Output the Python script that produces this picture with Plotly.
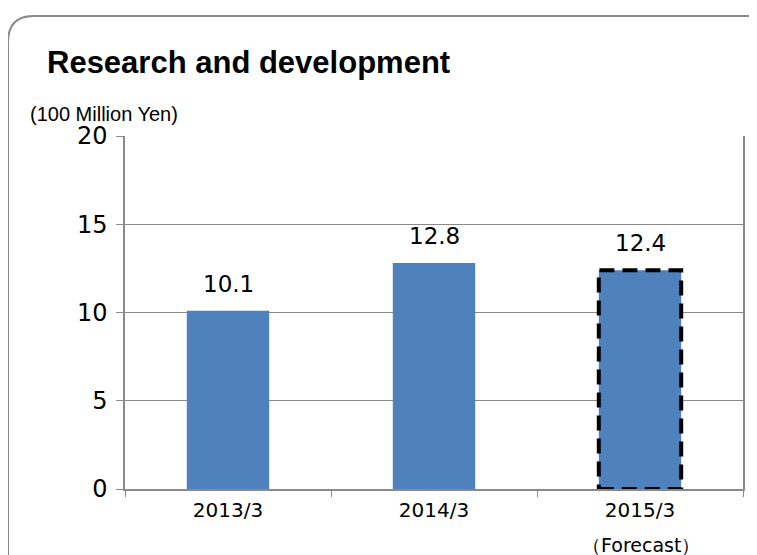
import plotly.graph_objects as go

categories = ["2013/3", "2014/3", "2015/3"]
values = [10.1, 12.8, 12.4]
labels = ["10.1", "12.8", "12.4"]
forecast_index = 2
y_ticks = [0, 5, 10, 15, 20]

# page body adds an 8px offset; reference coordinates are converted below
OFF = 8
W, H = 757 - OFF, 555 - OFF
L, R, T, B = 125 - OFF, 757 - 743, 136 - OFF, 555 - 489
PW, PH = W - L - R, H - T - B


def px(X):
    return (X - OFF - L) / PW


def py(Y):
    return (H - B - (Y - OFF)) / PH


fig = go.Figure()
fig.add_trace(go.Bar(
    x=categories, y=values, width=0.4,
    marker=dict(color="#4F81BD", line=dict(width=0)),
    hoverinfo="skip",
))

shapes = []
# dashed outline for forecast bar
shapes.append(dict(type="rect", xref="x", yref="y",
                   x0=forecast_index - 0.2, x1=forecast_index + 0.2,
                   y0=0, y1=values[forecast_index],
                   line=dict(color="#000000", width=4, dash="15px,8px"),
                   layer="above"))

# rounded outer border
x0, y0, x1, y1, r = 8, 16, 776, 580, 26
p = [
    f"M {px(x0)} {py(y0 + r)}",
    f"Q {px(x0)} {py(y0)} {px(x0 + r)} {py(y0)}",
    f"L {px(x1 - r)} {py(y0)}",
    f"Q {px(x1)} {py(y0)} {px(x1)} {py(y0 + r)}",
    f"L {px(x1)} {py(y1 - r)}",
    f"Q {px(x1)} {py(y1)} {px(x1 - r)} {py(y1)}",
    f"L {px(x0 + r)} {py(y1)}",
    f"Q {px(x0)} {py(y1)} {px(x0)} {py(y1 - r)}",
    "Z",
]
shapes.append(dict(type="path", xref="paper", yref="paper", path=" ".join(p),
                   line=dict(color="#8A8A8A", width=2), layer="below"))

annotations = [
    dict(text="<b>Research and development</b>", xref="paper", yref="paper",
         x=px(45), y=py(62), xanchor="left", yanchor="middle", showarrow=False,
         font=dict(family="Liberation Sans", size=31, color="#000000")),
    dict(text="(100 Million Yen)", xref="paper", yref="paper",
         x=px(28), y=py(114), xanchor="left", yanchor="middle", showarrow=False,
         font=dict(family="Liberation Sans", size=20, color="#000000")),
    dict(text="（Forecast）", xref="paper", yref="paper",
         x=px(641), y=py(545), xanchor="center", yanchor="middle", showarrow=False,
         font=dict(family="DejaVu Sans", size=19, color="#000000")),
]
for c, v, t in zip(categories, values, labels):
    annotations.append(dict(text=t, x=c, y=v, xref="x", yref="y",
                            xanchor="center", yanchor="bottom", yshift=12,
                            showarrow=False,
                            font=dict(family="DejaVu Sans", size=23, color="#000000")))

fig.update_layout(
    width=W, height=H,
    margin=dict(l=L, r=R, t=T, b=B, autoexpand=False),
    paper_bgcolor="#FFFFFF", plot_bgcolor="#FFFFFF",
    showlegend=False,
    shapes=shapes, annotations=annotations,
    xaxis=dict(type="category", showgrid=False, showline=True, linecolor="#8A8A8A", linewidth=2,
               ticks="outside", tickson="boundaries", ticklen=6, tickcolor="#8A8A8A",
               ticklabelstandoff=2,
               tickfont=dict(family="DejaVu Sans", size=20, color="#000000"),
               fixedrange=True),
    yaxis=dict(range=[0, 20], tickvals=y_ticks, showgrid=True, gridcolor="#8A8A8A", gridwidth=1,
               showline=True, mirror=True, linecolor="#8A8A8A", linewidth=1.5,
               ticks="outside", ticklen=7, tickcolor="#8A8A8A", zeroline=False,
               ticklabelstandoff=4,
               tickfont=dict(family="DejaVu Sans", size=24, color="#000000"),
               fixedrange=True),
)

fig.write_html("out.html")
